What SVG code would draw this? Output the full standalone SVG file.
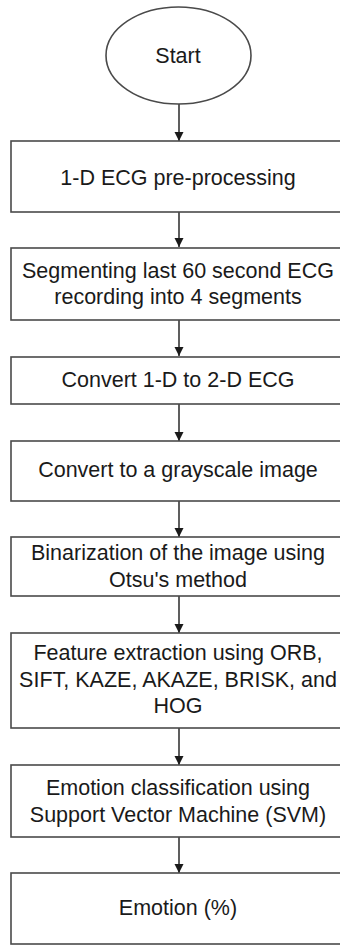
<svg xmlns="http://www.w3.org/2000/svg" width="340" height="945" viewBox="0 0 340 945">
<style>
.n{fill:#fff;stroke:#4a4a4a;stroke-width:1.6}
.t{font-family:"Liberation Sans",Arial,sans-serif;font-size:21.5px;fill:#1a1a1a;text-anchor:middle}
.c{stroke:#1a1a1a;stroke-width:1.4;fill:none;marker-end:url(#ah)}
</style>
<defs>
<marker id="ah" markerWidth="10" markerHeight="10" refX="9" refY="5" orient="auto" markerUnits="userSpaceOnUse">
<path d="M0,0.5 L9,5 L0,9.5 Z" fill="#1a1a1a"/>
</marker>
</defs>
<rect width="340" height="945" fill="#fff"/>
<g id="connectors">
<line class="c" x1="179" y1="104" x2="179" y2="141"/>
<line class="c" x1="179" y1="212" x2="179" y2="247"/>
<line class="c" x1="179" y1="320" x2="179" y2="356"/>
<line class="c" x1="179" y1="404" x2="179" y2="441"/>
<line class="c" x1="179" y1="501" x2="179" y2="537"/>
<line class="c" x1="179" y1="596" x2="179" y2="633"/>
<line class="c" x1="179" y1="728" x2="179" y2="765"/>
<line class="c" x1="179" y1="837" x2="179" y2="873"/>
</g>
<g id="start">
<ellipse class="n" cx="178.5" cy="55.5" rx="72.5" ry="48.5"/>
<text class="t" x="178" y="63">Start</text>
</g>
<g id="preprocess">
<rect class="n" x="11" y="141" width="336" height="71"/>
<text class="t" x="178" y="185">1-D ECG pre-processing</text>
</g>
<g id="segment">
<rect class="n" x="11" y="248" width="336" height="72"/>
<text class="t" x="178" y="278">Segmenting last 60 second ECG</text>
<text class="t" x="178" y="304">recording into 4 segments</text>
</g>
<g id="convert2d">
<rect class="n" x="11" y="357" width="336" height="47"/>
<text class="t" x="178" y="387">Convert 1-D to 2-D ECG</text>
</g>
<g id="grayscale">
<rect class="n" x="11" y="441" width="336" height="60"/>
<text class="t" x="178" y="477">Convert to a grayscale image</text>
</g>
<g id="binarize">
<rect class="n" x="11" y="537" width="336" height="59"/>
<text class="t" x="178" y="560">Binarization of the image using</text>
<text class="t" x="178" y="587">Otsu's method</text>
</g>
<g id="features">
<rect class="n" x="11" y="633" width="336" height="95"/>
<text class="t" x="178" y="660">Feature extraction using ORB,</text>
<text class="t" x="178" y="687">SIFT, KAZE, AKAZE, BRISK, and</text>
<text class="t" x="178" y="713">HOG</text>
</g>
<g id="classify">
<rect class="n" x="11" y="765" width="336" height="72"/>
<text class="t" x="178" y="795">Emotion classification using</text>
<text class="t" x="178" y="822">Support Vector Machine (SVM)</text>
</g>
<g id="emotion">
<rect class="n" x="11" y="873" width="336" height="71"/>
<text class="t" x="178" y="915">Emotion (%)</text>
</g>
</svg>
